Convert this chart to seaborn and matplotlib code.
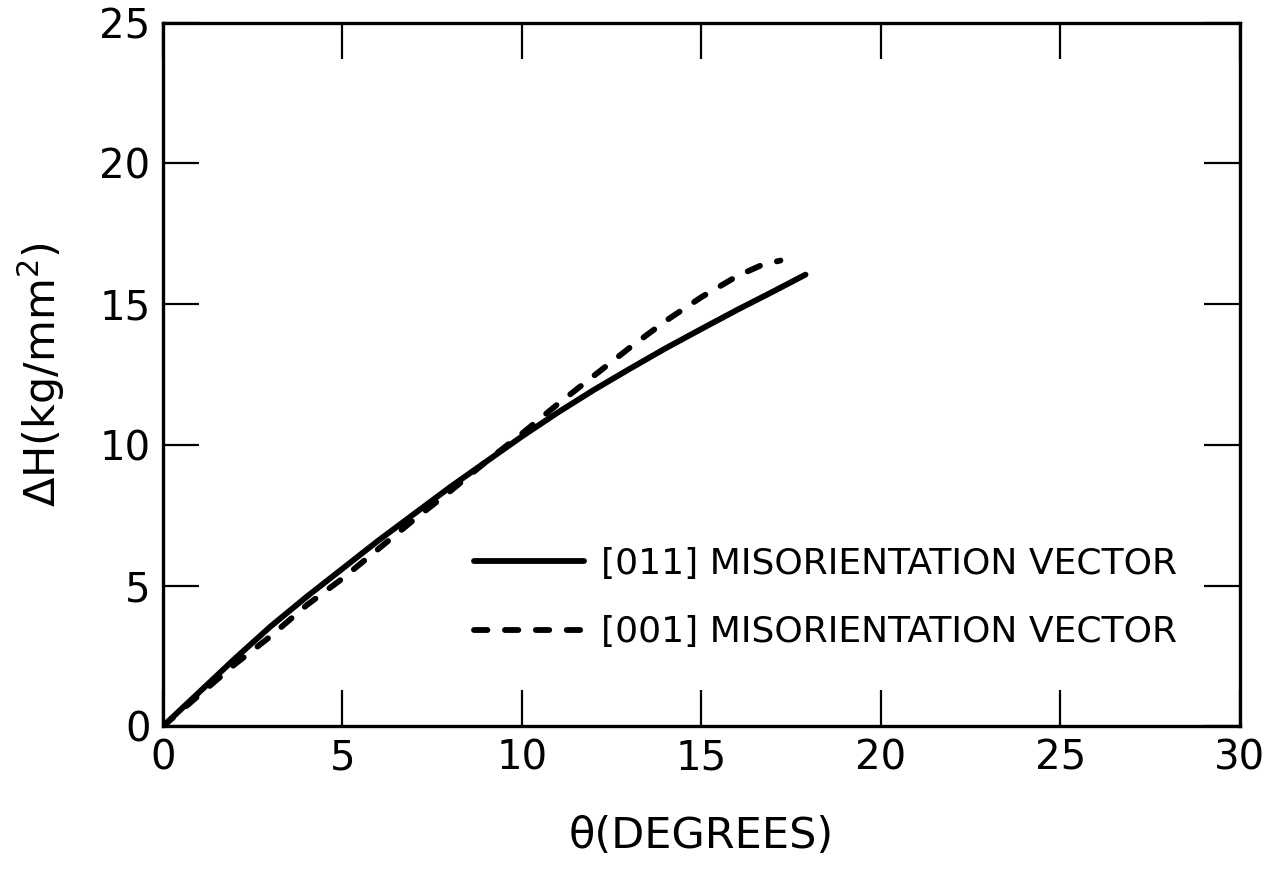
import matplotlib
matplotlib.use("Agg")
import matplotlib.pyplot as plt
import seaborn as sns
import pandas as pd

# ---- data ----
theta_011 = [0, 1, 2, 3, 4, 5, 6, 7, 8, 9, 10, 11, 12, 13, 14, 15, 16, 17, 17.9]
dh_011 = [0, 1.2, 2.4, 3.55, 4.6, 5.6, 6.6, 7.55, 8.5, 9.4, 10.3, 11.15, 11.95,
          12.7, 13.43, 14.12, 14.8, 15.45, 16.05]

theta_001 = [0, 1, 2, 3, 4, 5, 6, 7, 8, 9, 10, 11, 12, 13, 14, 15, 16, 16.7, 17.2]
dh_001 = [0, 1.1, 2.2, 3.2, 4.3, 5.25, 6.3, 7.35, 8.35, 9.4, 10.4, 11.45, 12.45,
          13.45, 14.4, 15.25, 16.0, 16.4, 16.55]

series_names = ["[011] MISORIENTATION VECTOR", "[001] MISORIENTATION VECTOR"]
x_ticks = [0, 5, 10, 15, 20, 25, 30]
y_ticks = [0, 5, 10, 15, 20, 25]
x_label = "θ(DEGREES)"
y_label = "ΔH(kg/mm$^2$)"

df = pd.concat([
    pd.DataFrame({"theta": theta_011, "dh": dh_011, "series": series_names[0]}),
    pd.DataFrame({"theta": theta_001, "dh": dh_001, "series": series_names[1]}),
], ignore_index=True)

sns.set_theme(style="ticks")
plt.rcParams["font.family"] = ["DejaVu Sans"]
plt.rcParams["text.color"] = "black"
plt.rcParams["axes.labelcolor"] = "black"

fig = plt.figure(figsize=(12.73, 8.74), dpi=100)
ax = fig.add_axes([0.128, 0.169, 0.846, 0.805])

sns.lineplot(data=df, x="theta", y="dh", hue="series", style="series",
             palette={series_names[0]: "black", series_names[1]: "black"},
             dashes={series_names[0]: "", series_names[1]: (2.3, 3.0)},
             estimator=None, sort=False, linewidth=4.2, ax=ax,
             legend=True)
for ln in ax.get_lines():
    ln.set_solid_capstyle("round")
    ln.set_dash_capstyle("round")

ax.set_xlim(0, 30)
ax.set_ylim(0, 25)
ax.set_xticks(x_ticks)
ax.set_yticks(y_ticks)
ax.set_xticklabels([str(t) for t in x_ticks])
ax.set_yticklabels([str(t) for t in y_ticks])
ax.tick_params(direction="in", length=26, width=1.6, top=True, right=True,
               labelsize=29, pad=9, colors="black")
for s in ax.spines.values():
    s.set_linewidth(2.4)
    s.set_color("black")

ax.set_xlabel(x_label, fontsize=31, labelpad=26, color="black")
ax.set_ylabel(y_label, fontsize=31, labelpad=23, color="black")

leg = ax.legend(loc="center left", bbox_to_anchor=(0.289, 0.182), frameon=False,
                fontsize=26, handlelength=3.05, handletextpad=0.47,
                labelspacing=0.95, borderpad=0, borderaxespad=0)
for h in leg.get_lines():
    h.set_linewidth(4.2)
    h.set_dash_capstyle("round")
    h.set_solid_capstyle("round")
for t in leg.get_texts():
    t.set_color("black")

fig.savefig("out.png", dpi=100, facecolor="white")
